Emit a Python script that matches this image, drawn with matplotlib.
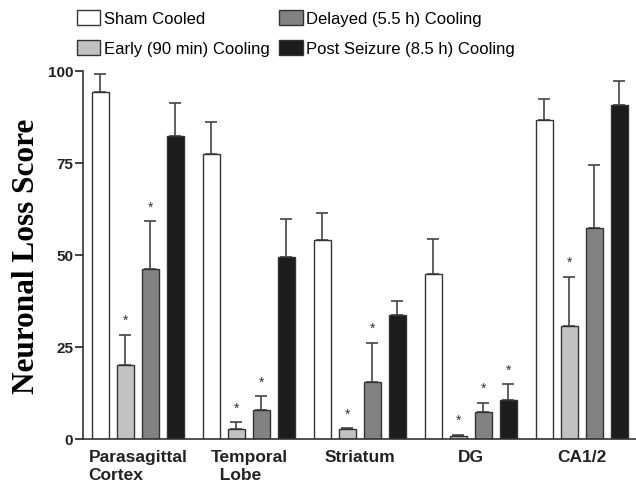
import numpy as np
import matplotlib.pyplot as plt
from matplotlib.patches import Patch

# Data
regions = ["Parasagittal\nCortex", "Temporal\n  Lobe", "Striatum", "DG", "CA1/2"]
groups = ["Sham Cooled", "Early (90 min) Cooling", "Delayed (5.5 h) Cooling",
          "Post Seizure (8.5 h) Cooling"]
sham = [94.2, 77.5, 54.0, 44.7, 86.7]
sham_err = [5.0, 8.7, 7.4, 9.6, 5.7]
early = [20.1, 2.7, 2.6, 0.9, 30.8]
early_err = [8.2, 1.8, 0.3, 0.3, 13.3]
delayed = [46.2, 8.0, 15.4, 7.2, 57.3]
delayed_err = [12.9, 3.6, 10.8, 2.7, 17.2]
post = [82.4, 49.5, 33.7, 10.6, 90.6]
post_err = [8.9, 10.2, 3.8, 4.3, 6.6]
# significance markers (1 = asterisk)
early_sig = [1, 1, 1, 1, 1]
delayed_sig = [1, 1, 1, 1, 0]
post_sig = [0, 0, 0, 1, 0]

colors = ["white", "#c2c2c2", "#828282", "#1c1c1c"]
means = [sham, early, delayed, post]
errs = [sham_err, early_err, delayed_err, post_err]
sigs = [[0] * 5, early_sig, delayed_sig, post_sig]

plt.rcParams['font.family'] = ['Liberation Sans', 'DejaVu Sans']

fig = plt.figure(figsize=(6.36, 4.85), dpi=100)
ax = fig.add_axes([0.1305, 0.0928, 0.87, 0.7592])

x = np.arange(len(regions))
step = 0.225
width = 0.15
for j in range(4):
    xs = x + (j - 1.5) * step
    ax.bar(xs, means[j], width, color=colors[j], edgecolor="#333333", linewidth=1.0, zorder=2)
    ax.errorbar(xs, means[j], yerr=[np.zeros(5), errs[j]], fmt='none', ecolor="#444444",
                elinewidth=1.2, capsize=4, capthick=1.2, zorder=1, clip_on=False)
    for k in range(5):
        if sigs[j][k]:
            ax.text(xs[k], means[j][k] + errs[j][k] + 4, "*", ha='center', va='center',
                    fontsize=10, color="#333333")

ax.set_xlim(-0.494, 4.49)
ax.set_ylim(0, 100)
ax.set_yticks([0, 25, 50, 75, 100])
ax.set_xticks(x)
ax.set_xticklabels(regions, fontsize=12.5, fontweight='bold', color="#222222",
                   multialignment='left', linespacing=1.3)
ax.tick_params(axis='x', length=0, pad=7)
ax.tick_params(axis='y', labelsize=11, width=1.2, length=6, pad=1, colors="#222222")
for lab in ax.get_yticklabels():
    lab.set_fontweight('bold')
ax.spines['top'].set_visible(False)
ax.spines['right'].set_visible(False)
ax.spines['left'].set_linewidth(1.2)
ax.spines['bottom'].set_linewidth(1.2)
ax.spines['left'].set_color("#333333")
ax.spines['bottom'].set_color("#333333")

ax.set_ylabel("Neuronal Loss Score", fontsize=22.5, fontweight='bold',
              family=['Liberation Serif', 'DejaVu Serif'], labelpad=5)

handles = [Patch(facecolor=colors[j], edgecolor="#333333", label=groups[j]) for j in [0, 1, 2, 3]]
fig.legend(handles=handles, loc='upper left', bbox_to_anchor=(0.121, 0.977), ncol=2,
           frameon=False, fontsize=12, handlelength=1.4, handleheight=0.95,
           handletextpad=0.2, columnspacing=0.6, labelspacing=0.85,
           borderaxespad=0, borderpad=0)

fig.savefig("out.png", dpi=100)
